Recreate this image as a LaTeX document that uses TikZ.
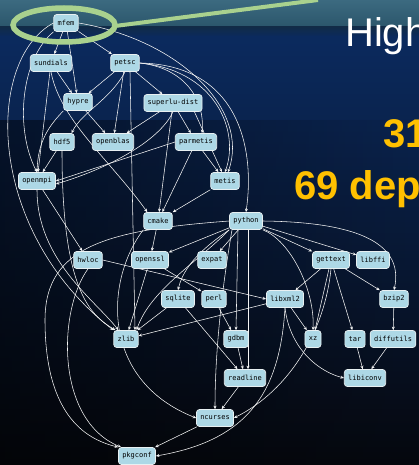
\documentclass[tikz,border=0pt]{standalone}
\usepackage{fontspec}
\setmainfont{Liberation Sans}
\newfontfamily\monof{DejaVu Sans Mono}
\usetikzlibrary{arrows.meta,fadings}
\definecolor{pk}{HTML}{ADD8E6}
\definecolor{pkedge}{HTML}{E8F0F2}
\definecolor{gold}{HTML}{FFC000}
\definecolor{hlgreen}{HTML}{A9D18E}
\definecolor{skyA}{HTML}{3C6A80}
\definecolor{skyB}{HTML}{2B566B}
\definecolor{seaA}{HTML}{112B48}
\definecolor{seaB}{HTML}{0B2A5E}
\definecolor{seaC}{HTML}{081B48}
\definecolor{seaD}{HTML}{06080E}
\pgfdeclarelayer{bg}
\pgfdeclarelayer{edges}
\pgfsetlayers{bg,edges,main}
\begin{document}
\begin{tikzpicture}[x=1pt,y=1pt,
  pkg/.style={draw=pkedge, line width=0.7pt, fill=pk, rounded corners=3pt,
    font=\monof\fontsize{7}{8}\selectfont, inner xsep=3.8pt, inner ysep=0pt,
    minimum height=17pt, text=black},
  dep/.style={draw=white!92!gray, line width=0.55pt, -{Stealth[length=3.5pt,width=3pt]}},
  bigtxt/.style={anchor=base west, inner sep=0pt, font=\fontsize{40}{40}\selectfont}]
\useasboundingbox (0,0) rectangle (419,-465);
\begin{pgfonlayer}{bg}
  \shade[top color=skyA, bottom color=skyB] (0,0) rectangle (419,-27);
  \shade[top color=seaA, bottom color=seaB] (0,-27) rectangle (419,-37);
  \shade[top color=seaB, middle color=seaC, bottom color=seaD] (0,-37) rectangle (419,-465);
  \fill[black, opacity=0.45, path fading=east] (0,-120) rectangle (419,-465);
\end{pgfonlayer}

% nodes
\node[pkg] (mfem) at (66,-23) {mfem};
\node[pkg] (sundials) at (51,-63) {sundials};
\node[pkg] (petsc) at (125,-63) {petsc};
\node[pkg] (hypre) at (78,-102) {hypre};
\node[pkg] (superlu) at (173,-103) {superlu-dist};
\node[pkg] (hdf5) at (62,-142) {hdf5};
\node[pkg] (openblas) at (113,-142) {openblas};
\node[pkg] (parmetis) at (196,-142) {parmetis};
\node[pkg] (openmpi) at (37,-181) {openmpi};
\node[pkg] (metis) at (225,-181) {metis};
\node[pkg] (cmake) at (158,-221) {cmake};
\node[pkg] (python) at (246,-221) {python};
\node[pkg] (hwloc) at (88,-260) {hwloc};
\node[pkg] (openssl) at (150,-260) {openssl};
\node[pkg] (expat) at (212,-260) {expat};
\node[pkg] (gettext) at (331,-260) {gettext};
\node[pkg] (libffi) at (373,-260) {libffi};
\node[pkg] (sqlite) at (178,-299) {sqlite};
\node[pkg] (perl) at (214,-299) {perl};
\node[pkg] (libxml2) at (285,-299) {libxml2};
\node[pkg] (bzip2) at (394,-299) {bzip2};
\node[pkg] (zlib) at (126,-339) {zlib};
\node[pkg] (gdbm) at (236,-339) {gdbm};
\node[pkg] (xz) at (313,-339) {xz};
\node[pkg] (tar) at (355,-339) {tar};
\node[pkg] (diffutils) at (393,-339) {diffutils};
\node[pkg] (readline) at (245,-378) {readline};
\node[pkg] (libiconv) at (365,-378) {libiconv};
\node[pkg] (ncurses) at (215,-418) {ncurses};
\node[pkg] (pkgconf) at (137,-456) {pkgconf};

\begin{pgfonlayer}{edges}
\draw[dep] (mfem) -- (sundials);
\draw[dep] (mfem) -- (petsc);
\draw[dep] (mfem) -- (hypre);
\draw[dep] (mfem.south west) .. controls (20,-60) and (15,-130) .. (openmpi.north);
\draw[dep] (mfem.west) .. controls (-15,-60) and (-15,-230) .. (zlib.north west);
\draw[dep] (mfem.east) .. controls (180,-40) and (250,-110) .. ([xshift=3pt]metis.north);
\draw[dep] (petsc.east) .. controls (240,-65) and (255,-150) .. (python.north);
\draw[dep] (petsc.east) .. controls (215,-70) and (240,-130) .. (metis.north);
\draw[dep] (petsc.east) .. controls (185,-68) and (205,-100) .. ([xshift=6pt]parmetis.north);
\draw[dep] (sundials) -- (hypre);
\draw[dep] (petsc) -- (hypre);
\draw[dep] (petsc) -- (superlu);
\draw[dep] (petsc) -- (openblas);
\draw[dep] (hypre) -- (openblas);
\draw[dep] (superlu) -- (openblas);
\draw[dep] (superlu) -- (parmetis);
\draw[dep] (parmetis) -- (metis);
\draw[dep] ([xshift=-8pt]superlu.south east) -- ([xshift=-3pt]metis.north);
\draw[dep] (petsc.south) .. controls (110,-100) and (82,-112) .. ([xshift=-3pt]hdf5.north east);
\draw[dep] (sundials) -- (openmpi);
\draw[dep] (hypre.south west) .. controls (50,-125) and (38,-140) .. (openmpi.north);
\draw[dep] (hdf5) -- (openmpi);
\draw[dep] (parmetis.west) -- (openmpi.east);
\draw[dep] (superlu.south) .. controls (160,-140) and (110,-168) .. ([yshift=-3pt]openmpi.east);
\draw[dep] (metis) -- (cmake);
\draw[dep] (parmetis) -- (cmake);
\draw[dep] (superlu) -- (cmake);
\draw[dep] (sundials.south) .. controls (60,-120) and (110,-160) .. ([xshift=4pt]cmake.north west);
\draw[dep] ([xshift=5pt]petsc.south) -- ([xshift=9pt]zlib.north);
\draw[dep] (hdf5.south) .. controls (62,-290) and (90,-315) .. ([xshift=2pt]zlib.north west);
\draw[dep] (openmpi) -- (hwloc);
\draw[dep] (openmpi.south) .. controls (37,-260) and (95,-300) .. ([xshift=5pt]zlib.north west);
\draw[dep] (cmake) -- (openssl);
\draw[dep] (cmake.south west) .. controls (105,-280) and (100,-380) .. (ncurses.west);
\draw[dep] (python) -- (openssl);
\draw[dep] (python) -- (expat);
\draw[dep] (python) -- (gettext);
\draw[dep] (python) -- (libffi);
\draw[dep] (python.east) .. controls (350,-222) and (405,-240) .. (bzip2.north);
\draw[dep] (python.south west) .. controls (215,-240) and (185,-260) .. (sqlite.north);
\draw[dep] (python.south west) .. controls (200,-260) and (150,-290) .. ([xshift=-2pt]zlib.north east);
\draw[dep] (python.west) .. controls (110,-230) and (45,-245) .. (45,-320)
  .. controls (45,-420) and (90,-440) .. (pkgconf.north west);
\draw[dep] (python.south east) .. controls (290,-240) and (315,-290) .. (xz.north);
\draw[dep] ([xshift=-8pt]python.south) -- (gdbm.north);
\draw[dep] ([xshift=2pt]python.south) -- ([xshift=3pt]readline.north);
\draw[dep] ([xshift=-14pt]python.south) .. controls (220,-300) and (215,-360) .. (ncurses.north);
\draw[dep] (hwloc.east) -- (libxml2.west);
\draw[dep] (hwloc.south) .. controls (58,-310) and (55,-420) .. ([xshift=3pt]pkgconf.north west);
\draw[dep] (openssl) -- (zlib);
\draw[dep] (openssl) -- (perl);
\draw[dep] (gettext) -- (libxml2);
\draw[dep] (gettext) -- (bzip2);
\draw[dep] (gettext) -- (xz);
\draw[dep] (gettext) -- (tar);
\draw[dep] (gettext.south) .. controls (325,-330) and (290,-390) .. (ncurses.east);
\draw[dep] (sqlite) -- (zlib);
\draw[dep] (sqlite) -- (readline);
\draw[dep] (perl) -- (gdbm);
\draw[dep] (libxml2) -- (zlib);
\draw[dep] (libxml2) -- (xz);
\draw[dep] (libxml2.south) .. controls (290,-350) and (320,-372) .. (libiconv.west);
\draw[dep] (libxml2.south) .. controls (280,-390) and (250,-440) .. (pkgconf.east);
\draw[dep] (bzip2) -- (diffutils);
\draw[dep] (gdbm) -- (readline);
\draw[dep] (tar) -- (libiconv);
\draw[dep] (diffutils) -- (libiconv);
\draw[dep] (readline) -- (ncurses);
\draw[dep] (ncurses) -- (pkgconf);
\end{pgfonlayer}

% highlight
\draw[hlgreen, line width=5.5pt] (64,-25) ellipse [x radius=51, y radius=17];
\draw[hlgreen, line width=4pt] (115,-26) -- (318,0);

% slide text
\node[bigtxt, text=white] (high) at (345,-47) {High};
\node[bigtxt, text=gold, font=\bfseries\fontsize{40}{40}\selectfont] (n31) at (383,-148) {31};
\node[bigtxt, text=gold, font=\bfseries\fontsize{40}{40}\selectfont] (n69) at (294,-199) {69 dep};
\end{tikzpicture}
\end{document}
